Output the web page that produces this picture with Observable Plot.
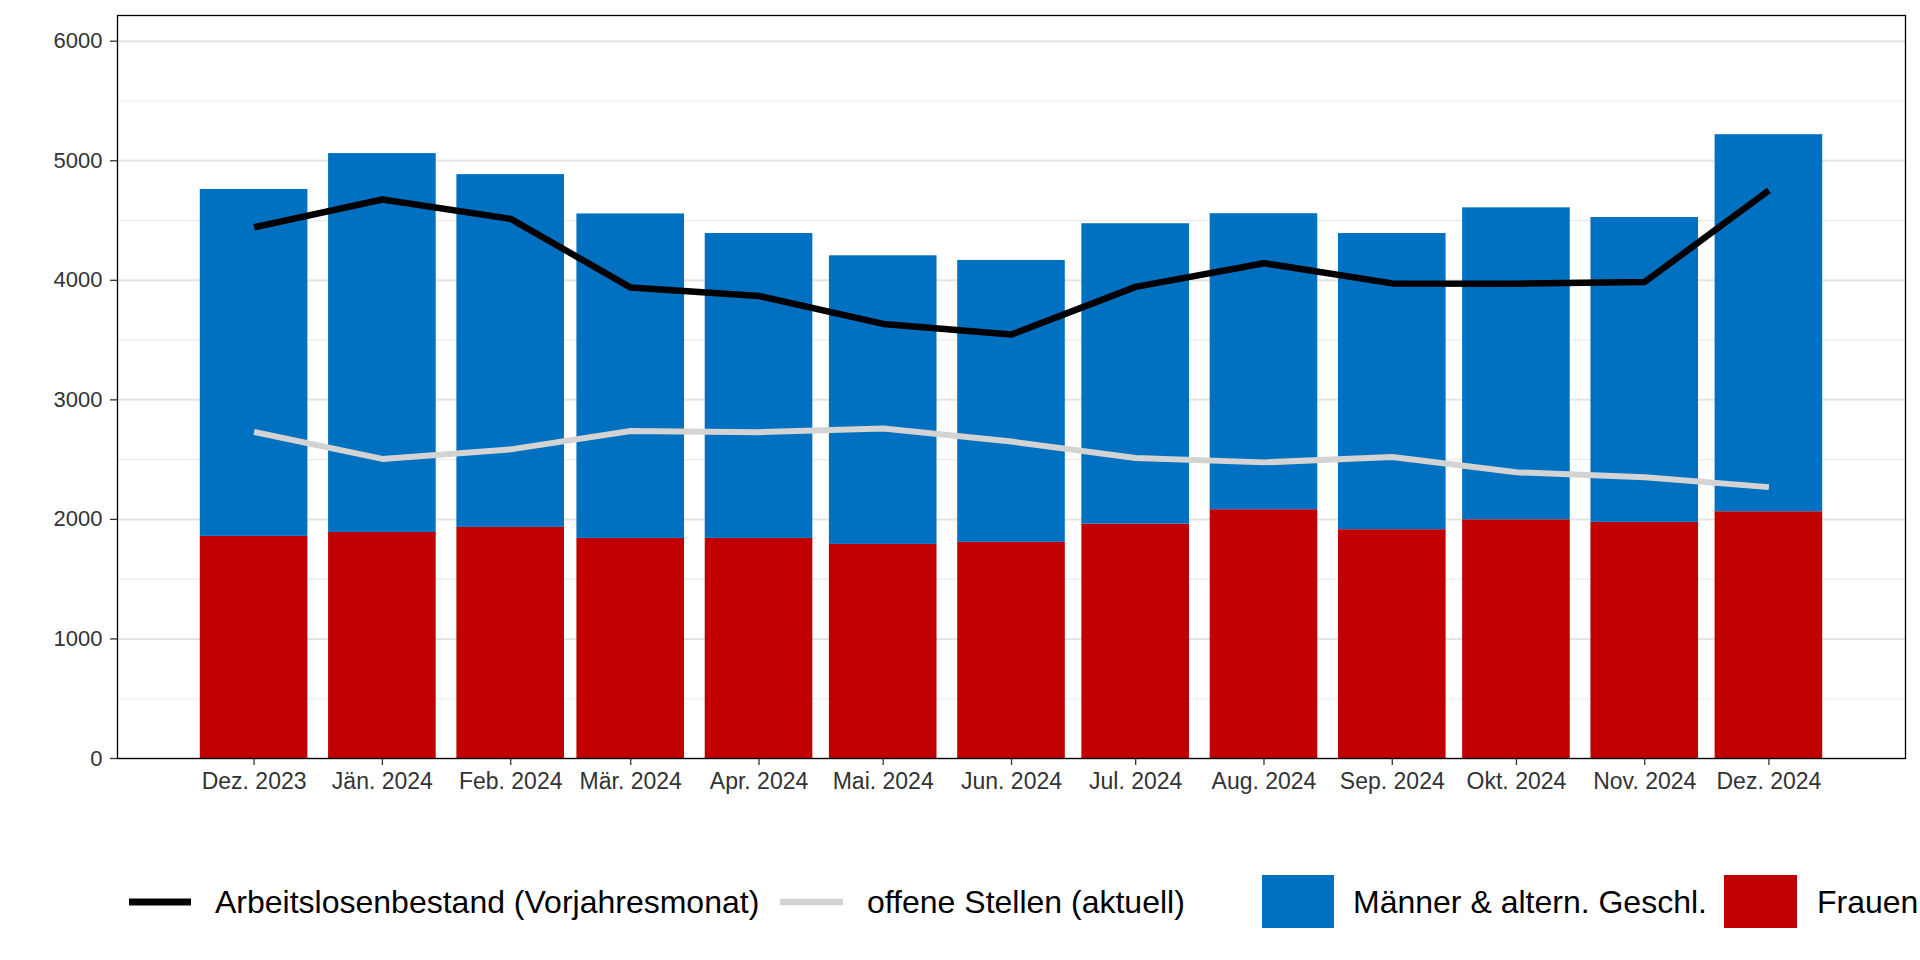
<!DOCTYPE html>
<html>
<head>
<meta charset="utf-8">
<script src="https://cdn.jsdelivr.net/npm/d3@7"></script>
<script src="https://cdn.jsdelivr.net/npm/@observablehq/plot@0.6"></script>
<style>
  body { margin: 0; background: #fff; font-family: "Liberation Sans", Arial, sans-serif; }
  #chart svg { display: block; }
</style>
</head>
<body>
<div id="chart"></div>
<div id="legend"></div>
<script>
// ---- data ----
const months = ["2023-12-01","2024-01-01","2024-02-01","2024-03-01","2024-04-01","2024-05-01","2024-06-01","2024-07-01","2024-08-01","2024-09-01","2024-10-01","2024-11-01","2024-12-01"];
const monthLabels = ["Dez. 2023","Jän. 2024","Feb. 2024","Mär. 2024","Apr. 2024","Mai. 2024","Jun. 2024","Jul. 2024","Aug. 2024","Sep. 2024","Okt. 2024","Nov. 2024","Dez. 2024"];
const frauen  = [1858, 1891, 1933, 1841, 1841, 1791, 1808, 1961, 2081, 1914, 1997, 1975, 2064];
const maenner = [2902, 3169, 2951, 2714, 2550, 2414, 2358, 2512, 2476, 2477, 2609, 2550, 3154];
const arbeitslose   = [4444, 4676, 4514, 3939, 3869, 3635, 3547, 3945, 4143, 3974, 3972, 3986, 4753];
const offeneStellen = [2731, 2506, 2586, 2739, 2730, 2760, 2651, 2514, 2477, 2522, 2394, 2353, 2270];
const yTicks = [0, 1000, 2000, 3000, 4000, 5000, 6000];
const yMinorTicks = [500, 1500, 2500, 3500, 4500, 5500];
const seriesNames = ["Arbeitslosenbestand (Vorjahresmonat)", "offene Stellen (aktuell)", "Männer & altern. Geschl.", "Frauen"];
const colors = { arbeitslose: "#000000", offene: "#d3d3d3", maenner: "#0070C0", frauen: "#C00000" };

// ---- build tables ----
const DAY = 864e5;
const barHalf = 13 * DAY;
const pad = 33 * DAY;
const dates = months.map(s => new Date(s));
const labelOf = new Map(dates.map((d, i) => [+d, monthLabels[i]]));
const rows = dates.map((d, i) => ({
  date: d,
  x1: new Date(+d - barHalf),
  x2: new Date(+d + barHalf),
  frauen: frauen[i],
  total: frauen[i] + maenner[i],
  arbeitslose: arbeitslose[i],
  offene: offeneStellen[i]
}));

const plot = Plot.plot({
  width: 1920,
  height: 800,
  marginTop: 15,
  marginBottom: 42,
  marginLeft: 117,
  marginRight: 15,
  style: { fontFamily: "'Liberation Sans', Arial, sans-serif", fontSize: "22px", color: "#333", background: "#fff" },
  x: { type: "utc", domain: [new Date(+dates[0] - pad), new Date(+dates[dates.length - 1] + pad)], label: null },
  y: { domain: [0, 6215], label: null },
  marks: [
    Plot.ruleY(yMinorTicks, { stroke: "#ebebeb", strokeWidth: 1.2 }),
    Plot.ruleY(yTicks, { stroke: "#e4e4e4", strokeWidth: 2 }),
    Plot.rectY(rows, { x1: "x1", x2: "x2", y1: 0, y2: "frauen", fill: colors.frauen }),
    Plot.rectY(rows, { x1: "x1", x2: "x2", y1: "frauen", y2: "total", fill: colors.maenner }),
    Plot.line(rows, { x: "date", y: "offene", stroke: colors.offene, strokeWidth: 6, strokeLinejoin: "round", strokeLinecap: "butt" }),
    Plot.line(rows, { x: "date", y: "arbeitslose", stroke: colors.arbeitslose, strokeWidth: 6.5, strokeLinejoin: "round", strokeLinecap: "butt" }),
    Plot.axisY({ ticks: yTicks, tickFormat: d => String(d), tickSize: 7, tickPadding: 8, fontSize: 22, stroke: "#333", strokeWidth: 1.3, label: null }),
    Plot.axisX({ ticks: dates, tickFormat: d => labelOf.get(+d), tickSize: 7, tickPadding: 7, fontSize: 23, stroke: "#333", strokeWidth: 1.3, label: null }),
    Plot.frame({ stroke: "#000", strokeWidth: 1.3 })
  ]
});
document.getElementById("chart").appendChild(plot);

// ---- legend (below the plot) ----
const lg = d3.select("#legend").append("svg")
  .attr("width", 1920).attr("height", 160)
  .style("display", "block")
  .style("font-family", "'Liberation Sans', Arial, sans-serif");
const baseline = 113;
const midY = 102;
const legendItems = [
  { kind: "line", color: colors.arbeitslose, width: 7, sx: 129, sw: 62, tx: 215, text: seriesNames[0] },
  { kind: "line", color: colors.offene, width: 6.5, sx: 780, sw: 63, tx: 867, text: seriesNames[1] },
  { kind: "box", color: colors.maenner, sx: 1262, sw: 72, tx: 1353, text: seriesNames[2] },
  { kind: "box", color: colors.frauen, sx: 1724, sw: 73, tx: 1817, text: seriesNames[3] }
];
for (const it of legendItems) {
  if (it.kind === "line") {
    lg.append("line").attr("x1", it.sx).attr("x2", it.sx + it.sw)
      .attr("y1", midY).attr("y2", midY)
      .attr("stroke", it.color).attr("stroke-width", it.width);
  } else {
    lg.append("rect").attr("x", it.sx).attr("y", 75).attr("width", it.sw).attr("height", 53).attr("fill", it.color);
  }
  lg.append("text").attr("x", it.tx).attr("y", baseline)
    .attr("font-size", 32).attr("fill", "#000").text(it.text);
}
</script>
</body>
</html>
